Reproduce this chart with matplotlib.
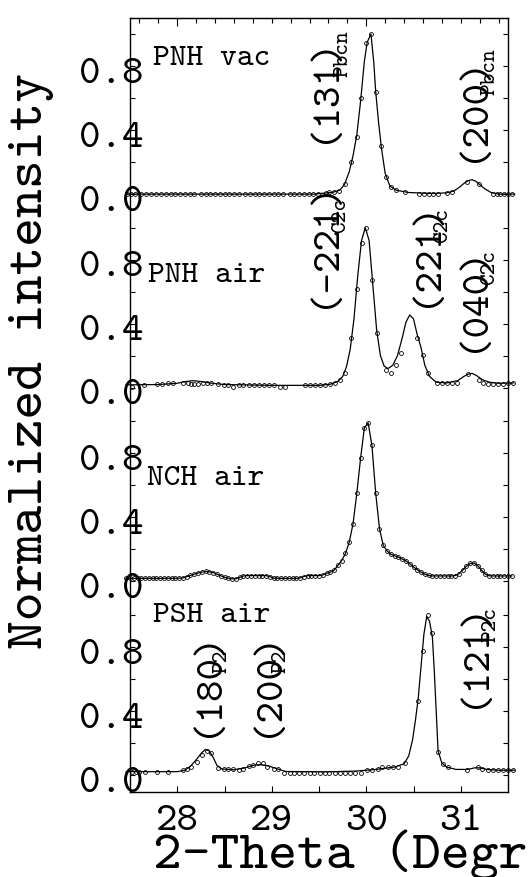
import matplotlib.pyplot as plt
import numpy as np
from matplotlib.transforms import ScaledTranslation

plt.rcParams['font.family'] = ['cmtt10', 'Liberation Mono']

samples = ['PNH vac', 'PNH air', 'NCH air', 'PSH air']

# PNH vac: measured points and fitted curve
vac_x = [27.47, 27.51, 27.55, 27.62, 27.67, 27.72, 27.77, 27.83, 27.88, 27.93,
         27.98, 28.03, 28.08, 28.13, 28.18, 28.25, 28.30, 28.35, 28.40, 28.45,
         28.50, 28.55, 28.60, 28.65, 28.72, 28.77, 28.82, 28.87, 28.92, 28.97,
         29.02, 29.07, 29.12, 29.19, 29.24, 29.29, 29.34, 29.39, 29.44, 29.49,
         29.57, 29.61, 29.66, 29.71, 29.77, 29.84, 29.90, 29.94, 30.00, 30.05,
         30.10, 30.16, 30.21, 30.26, 30.32, 30.41, 30.56, 30.61, 30.66, 30.71,
         30.76, 30.85, 30.91, 31.07, 31.19, 31.34, 31.38, 31.42, 31.46, 31.50,
         31.54]
vac_y = [0.0, 0.0, 0.0, 0.0, 0.0, 0.0, 0.0, 0.0, 0.0, 0.0,
         0.0, 0.0, 0.0, 0.0, 0.0, 0.0, 0.0, 0.0, 0.0, 0.0,
         0.0, 0.0, 0.0, 0.0, 0.0, 0.0, 0.0, 0.0, 0.0, 0.0,
         0.0, 0.0, 0.0, 0.0, 0.0, 0.0, 0.0, 0.0, 0.0, 0.0,
         0.010, 0.012, 0.012, 0.018, 0.064, 0.200, 0.355, 0.600, 0.945, 1.000,
         0.640, 0.300, 0.105, 0.043, 0.026, 0.014, 0.002, 0.002, 0.002, 0.002,
         0.002, 0.008, 0.012, 0.074, 0.064, 0.0, 0.0, 0.0, 0.0, 0.0,
         0.0]
vac_fit_x = [27.46, 29.45, 29.55, 29.65, 29.72, 29.77, 29.82, 29.86, 29.90, 29.94,
             29.98, 30.01, 30.05, 30.08, 30.10, 30.13, 30.16, 30.20, 30.25, 30.32,
             30.45, 30.70, 30.85, 30.93, 30.99, 31.04, 31.08, 31.12, 31.16, 31.20,
             31.25, 31.32, 31.40, 31.57]
vac_fit_y = [0.0, 0.0, 0.006, 0.012, 0.025, 0.06, 0.14, 0.24, 0.37, 0.58,
             0.83, 0.95, 1.0, 0.82, 0.64, 0.45, 0.29, 0.13, 0.05, 0.024,
             0.01, 0.004, 0.008, 0.02, 0.045, 0.07, 0.085, 0.09, 0.08, 0.06,
             0.035, 0.01, 0.0, 0.0]

# PNH air
pnh_x = [27.52, 27.65, 27.79, 27.84, 27.90, 27.95, 28.06, 28.11, 28.15, 28.18,
         28.22, 28.27, 28.31, 28.36, 28.43, 28.49, 28.54, 28.59, 28.65, 28.70,
         28.76, 28.81, 28.86, 28.92, 28.97, 29.02, 29.09, 29.14, 29.35, 29.40,
         29.46, 29.51, 29.56, 29.62, 29.67, 29.72, 29.77, 29.84, 29.90, 29.95,
         30.00, 30.06, 30.11, 30.21, 30.26, 30.32, 30.37, 30.54, 30.60, 30.65,
         30.75, 30.80, 30.85, 30.91, 30.96, 31.08, 31.19, 31.24, 31.29, 31.34,
         31.39, 31.45, 31.50, 31.55]
pnh_y = [0.007, 0.018, 0.024, 0.024, 0.028, 0.032, 0.032, 0.028, 0.022, 0.022,
         0.022, 0.028, 0.032, 0.032, 0.022, 0.018, 0.018, 0.003, 0.018, 0.018,
         0.018, 0.018, 0.018, 0.018, 0.018, 0.018, 0.007, 0.007, 0.018, 0.018,
         0.018, 0.018, 0.018, 0.022, 0.032, 0.049, 0.090, 0.310, 0.615, 0.907,
         0.997, 0.674, 0.340, 0.111, 0.090, 0.143, 0.215, 0.309, 0.205, 0.090,
         0.032, 0.032, 0.028, 0.032, 0.032, 0.086, 0.049, 0.032, 0.022, 0.022,
         0.022, 0.022, 0.028, 0.032]
pnh_fit_x = [27.46, 27.80, 28.00, 28.08, 28.16, 28.24, 28.34, 28.50, 29.00, 29.50,
             29.62, 29.70, 29.75, 29.79, 29.83, 29.87, 29.91, 29.95, 29.99, 30.03,
             30.07, 30.11, 30.15, 30.19, 30.23, 30.28, 30.33, 30.38, 30.42, 30.46,
             30.50, 30.54, 30.58, 30.62, 30.67, 30.74, 30.85, 30.97, 31.03, 31.08,
             31.12, 31.17, 31.23, 31.30, 31.40, 31.56]
pnh_fit_y = [0.018, 0.02, 0.028, 0.038, 0.044, 0.04, 0.03, 0.02, 0.015, 0.015,
             0.022, 0.04, 0.07, 0.13, 0.24, 0.43, 0.70, 0.92, 1.0, 0.92,
             0.64, 0.36, 0.2, 0.135, 0.12, 0.14, 0.2, 0.31, 0.41, 0.455,
             0.43, 0.33, 0.25, 0.14, 0.07, 0.035, 0.03, 0.045, 0.07, 0.085,
             0.09, 0.075, 0.05, 0.035, 0.028, 0.03]

# NCH air (dense scan, curve drawn through the points)
nch_x = [27.46, 27.50, 27.54, 27.58, 27.62, 27.66, 27.70, 27.74, 27.78, 27.82,
         27.86, 27.90, 27.94, 27.98, 28.02, 28.06, 28.10, 28.14, 28.18, 28.22,
         28.26, 28.30, 28.34, 28.38, 28.42, 28.46, 28.50, 28.54, 28.58, 28.62,
         28.66, 28.70, 28.74, 28.78, 28.82, 28.86, 28.90, 28.94, 28.98, 29.02,
         29.06, 29.10, 29.14, 29.18, 29.22, 29.26, 29.30, 29.34, 29.38, 29.42,
         29.46, 29.50, 29.54, 29.58, 29.62, 29.66, 29.70, 29.74, 29.78, 29.82,
         29.86, 29.90, 29.94, 29.98, 30.02, 30.06, 30.10, 30.14, 30.18, 30.22,
         30.26, 30.30, 30.34, 30.38, 30.42, 30.46, 30.50, 30.54, 30.58, 30.62,
         30.66, 30.70, 30.74, 30.78, 30.82, 30.86, 30.90, 30.94, 30.98, 31.02,
         31.06, 31.10, 31.14, 31.18, 31.22, 31.26, 31.30, 31.34, 31.38, 31.42,
         31.46, 31.50, 31.54]
nch_y = [0.019, 0.019, 0.019, 0.019, 0.019, 0.019, 0.020, 0.019, 0.019, 0.019,
         0.019, 0.020, 0.019, 0.019, 0.020, 0.022, 0.030, 0.037, 0.045, 0.052,
         0.058, 0.062, 0.060, 0.055, 0.045, 0.035, 0.026, 0.020, 0.016, 0.016,
         0.025, 0.034, 0.036, 0.036, 0.036, 0.036, 0.036, 0.036, 0.030, 0.020,
         0.019, 0.019, 0.019, 0.019, 0.019, 0.019, 0.022, 0.030, 0.036, 0.036,
         0.036, 0.036, 0.040, 0.050, 0.058, 0.070, 0.100, 0.130, 0.175, 0.245,
         0.360, 0.550, 0.770, 0.960, 0.990, 0.850, 0.550, 0.330, 0.225, 0.190,
         0.170, 0.160, 0.152, 0.140, 0.128, 0.110, 0.090, 0.073, 0.058, 0.045,
         0.037, 0.034, 0.034, 0.034, 0.034, 0.034, 0.034, 0.036, 0.048, 0.070,
         0.095, 0.112, 0.115, 0.098, 0.070, 0.045, 0.035, 0.034, 0.034, 0.034,
         0.034, 0.034, 0.034]

# PSH air
psh_x = [27.52, 27.56, 27.60, 27.66, 27.79, 27.90, 28.06, 28.10, 28.15, 28.21,
         28.26, 28.31, 28.36, 28.43, 28.49, 28.54, 28.59, 28.65, 28.70, 28.76,
         28.80, 28.85, 28.91, 28.95, 29.02, 29.07, 29.13, 29.19, 29.24, 29.29,
         29.34, 29.40, 29.45, 29.51, 29.56, 29.61, 29.67, 29.72, 29.77, 29.83,
         29.88, 29.94, 30.01, 30.06, 30.12, 30.17, 30.23, 30.28, 30.34, 30.41,
         30.55, 30.60, 30.65, 30.70, 30.76, 30.81, 30.87, 31.07, 31.18, 31.23,
         31.29, 31.34, 31.39, 31.45, 31.50, 31.55]
psh_y = [0.021, 0.017, 0.017, 0.017, 0.017, 0.017, 0.031, 0.035, 0.052, 0.079,
         0.125, 0.152, 0.140, 0.042, 0.035, 0.035, 0.035, 0.031, 0.035, 0.056,
         0.063, 0.077, 0.077, 0.052, 0.035, 0.035, 0.015, 0.015, 0.015, 0.015,
         0.015, 0.015, 0.015, 0.015, 0.015, 0.015, 0.015, 0.015, 0.015, 0.015,
         0.015, 0.015, 0.031, 0.031, 0.035, 0.048, 0.048, 0.048, 0.052, 0.073,
         0.460, 0.774, 1.000, 0.890, 0.146, 0.069, 0.052, 0.031, 0.048, 0.035,
         0.031, 0.031, 0.031, 0.031, 0.031, 0.031]
psh_fit_x = [27.46, 28.00, 28.08, 28.14, 28.20, 28.26, 28.30, 28.34, 28.38, 28.42,
             28.47, 28.60, 28.72, 28.80, 28.88, 28.96, 29.05, 29.15, 29.60, 29.90,
             30.10, 30.30, 30.40, 30.45, 30.49, 30.52, 30.55, 30.58, 30.61, 30.64,
             30.67, 30.70, 30.72, 30.74, 30.76, 30.80, 30.85, 30.95, 31.07, 31.15,
             31.20, 31.28, 31.40, 31.57]
psh_fit_y = [0.021, 0.021, 0.03, 0.055, 0.095, 0.14, 0.16, 0.15, 0.11, 0.06,
             0.038, 0.033, 0.045, 0.06, 0.065, 0.058, 0.04, 0.022, 0.02, 0.025,
             0.035, 0.05, 0.07, 0.12, 0.22, 0.34, 0.48, 0.68, 0.88, 0.99,
             0.96, 0.86, 0.65, 0.40, 0.15, 0.075, 0.05, 0.035, 0.035, 0.045,
             0.045, 0.035, 0.03, 0.03]

points = {'PNH vac': (vac_x, vac_y), 'PNH air': (pnh_x, pnh_y),
          'NCH air': (nch_x, nch_y), 'PSH air': (psh_x, psh_y)}
fits = {'PNH vac': (vac_fit_x, vac_fit_y), 'PNH air': (pnh_fit_x, pnh_fit_y),
        'NCH air': (nch_x, nch_y), 'PSH air': (psh_fit_x, psh_fit_y)}

# sample name label positions (x, y above the panel baseline)
name_pos = {'PNH vac': (27.745, 0.8075), 'PNH air': (27.69, 0.663),
            'NCH air': (27.675, 0.6025), 'PSH air': (27.745, 0.958)}

# reflections: sample, hkl, phase, hkl position, phase position
peaks = [
    ('PNH vac', '(131)', 'Pbcn', 29.653, 0.32, 29.796, 0.734),
    ('PNH vac', '(200)', 'Pbcn', 31.22, 0.203, 31.36, 0.62),
    ('PNH air', '(-221)', 'C2c', 29.653, 0.496, 29.78, 0.9675),
    ('PNH air', '(221)', 'C2c', 30.728, 0.5025, 30.854, 0.905),
    ('PNH air', '(040)', 'C2c', 31.225, 0.226, 31.357, 0.6425),
    ('PSH air', '(180)', 'P2', 28.415, 0.239, 28.522, 0.636),
    ('PSH air', '(200)', 'P2', 29.043, 0.239, 29.150, 0.636),
    ('PSH air', '(121)', 'P2c', 31.235, 0.416, 31.362, 0.833),
]

step = 1.21
offs = {name: (3 - i) * step for i, name in enumerate(samples)}

fig = plt.figure(figsize=(5.3, 8.77), dpi=100)
ax = fig.add_axes([0.2453, 0.0973, 0.7132, 0.8819])

for name in samples:
    o = offs[name]
    fx, fy = fits[name]
    ax.plot(fx, [v + o for v in fy], color='black', lw=0.9, clip_on=False, zorder=2)
    px, py = points[name]
    ax.plot(px, [v + o for v in py], 'o', ms=2.8, mfc='none', mec='black',
            mew=0.6, clip_on=False, zorder=3)
    nx, ny = name_pos[name]
    ax.text(nx, ny + o, name, fontsize=23, ha='left', va='baseline')

for name, hkl, phase, x1, y1, x2, y2 in peaks:
    o = offs[name]
    ax.text(x1, y1 + o, hkl, fontsize=29.5, rotation=90, rotation_mode='anchor',
            ha='left', va='baseline')
    ax.text(x2, y2 + o, phase, fontsize=16, rotation=90, rotation_mode='anchor',
            ha='left', va='baseline')

ax.set_xlim(27.5, 31.5)
ax.set_ylim(-0.104, 4.729)

ax.set_xticks([28, 29, 30, 31])
ax.set_xticks([28.5, 29.5, 30.5], minor=True)
ax.tick_params(axis='x', which='both', direction='in', length=4, width=0.8,
               labelsize=29.5, pad=9.5)

ypos = [offs[n] + v for n in samples for v in (0.0, 0.4, 0.8)]
ylab = ['0.0', '0.4', '0.8'] * 4
ax.set_yticks(ypos, ylab)
ax.set_yticks([offs[n] + v for n in samples for v in (0.2, 0.6, 1.0)], minor=True)
ax.tick_params(axis='y', which='both', direction='in', length=3.5, width=0.8,
               left=True, right=True, labelsize=29.5, pad=-9.4)
shift = ScaledTranslation(0, -4 / 100, fig.dpi_scale_trans)
for lbl in ax.get_yticklabels():
    lbl.set_transform(lbl.get_transform() + shift)

top = ax.secondary_xaxis('top')
top.set_xticks([28, 30])
top.set_xticks([t for t in np.arange(27.6, 31.45, 0.2) if abs(t - 28) > 0.01 and abs(t - 30) > 0.01], minor=True)
top.tick_params(which='major', direction='in', length=6, width=0.8, labeltop=False)
top.tick_params(which='minor', direction='in', length=3.5, width=0.8)

for s in ax.spines.values():
    s.set_linewidth(1.0)

fig.text(42 / 530, 1 - 360.5 / 877, 'Normalized intensity', fontsize=39.5,
         rotation=90, rotation_mode='anchor', ha='center', va='baseline')
fig.text(153 / 530, 1 - 868 / 877, '2-Theta (Degr', fontsize=39.5,
         ha='left', va='baseline')

fig.savefig('out.png', dpi=100)
